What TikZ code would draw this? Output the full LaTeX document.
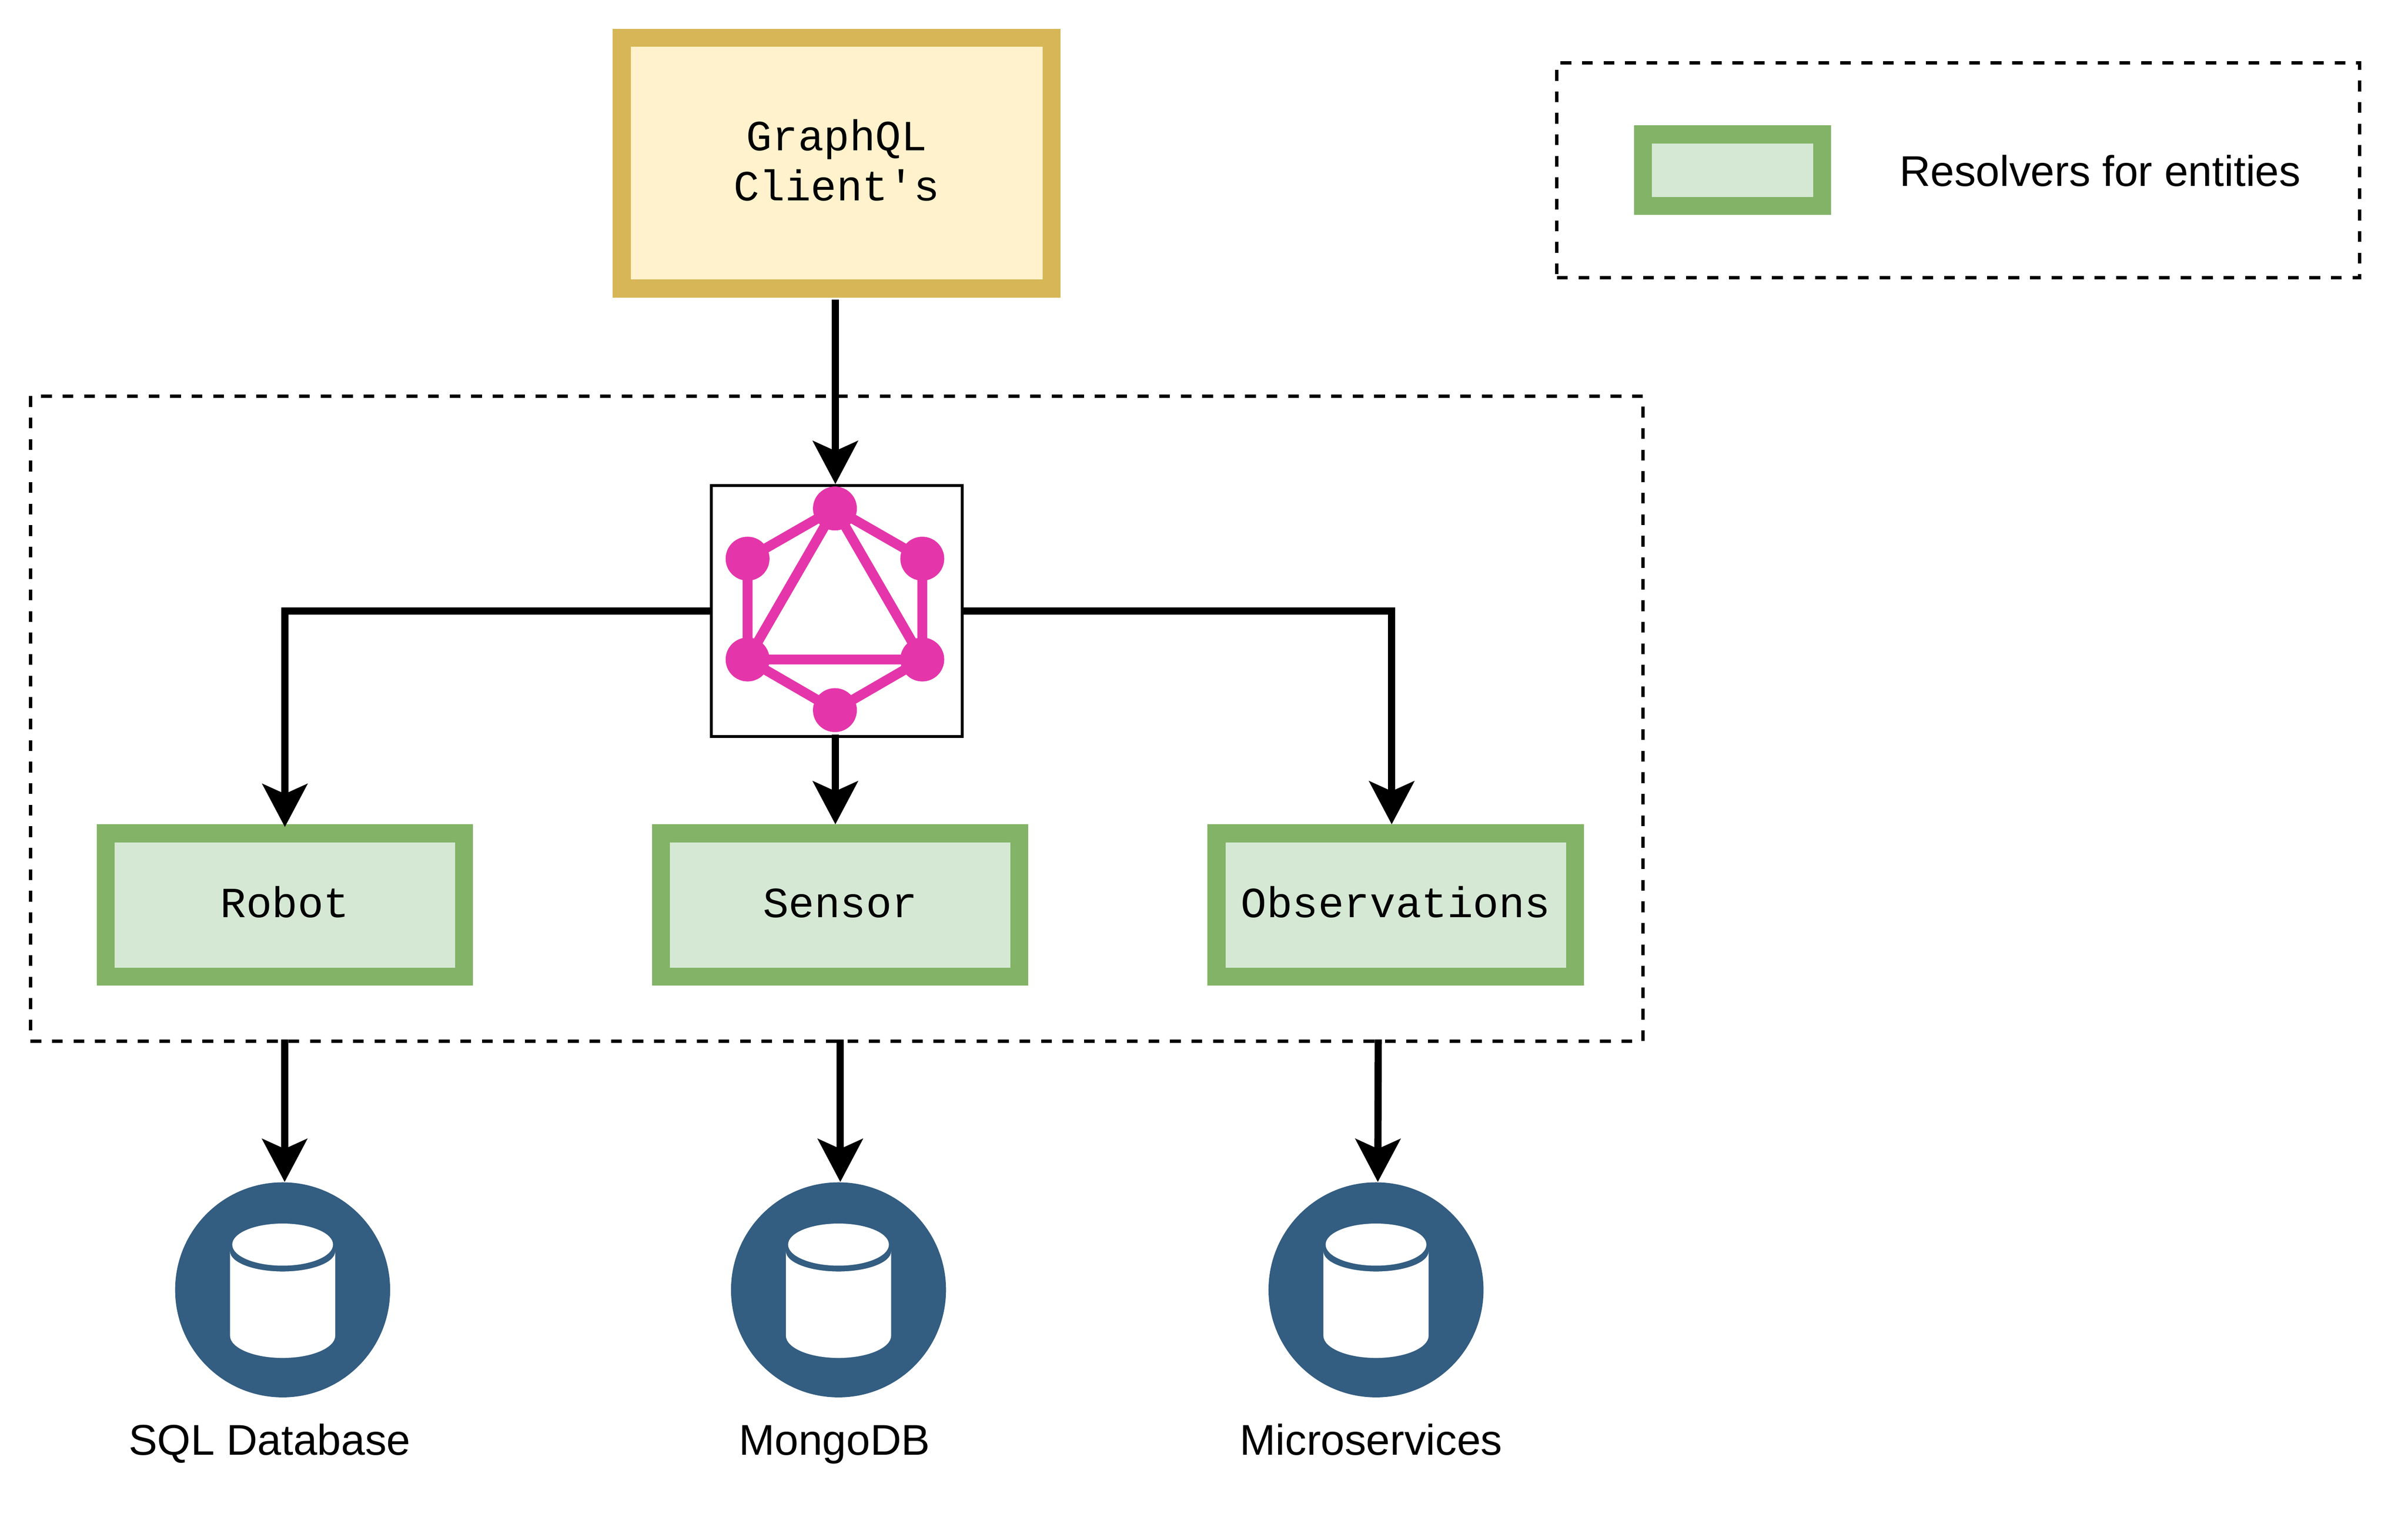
\documentclass[tikz,border=0pt]{standalone}
\usepackage{fontspec}
\setmainfont{Liberation Sans}
\setmonofont{Liberation Mono}
\usetikzlibrary{arrows.meta}
\definecolor{clientfill}{HTML}{FFF2CC}
\definecolor{clientline}{HTML}{D6B656}
\definecolor{resolverfill}{HTML}{D5E8D4}
\definecolor{resolverline}{HTML}{82B366}
\definecolor{gqlpink}{HTML}{E535AB}
\definecolor{dbblue}{HTML}{335D81}
\tikzset{
    monotext/.style={font=\ttfamily\fontsize{27.3}{31.9}\selectfont,text height=0.76cm,text depth=0.2cm},
    sanstext/.style={font=\fontsize{27.3}{32}\selectfont,anchor=base,inner sep=0},
    clientbox/.style={draw=clientline,fill=clientfill,line width=0.4cm,minimum width=9.6cm,minimum height=5.6cm,inner sep=0,align=center,monotext,text height=1.88cm},
    resolver/.style={draw=resolverline,fill=resolverfill,line width=0.4cm,minimum width=8cm,minimum height=3.2cm,inner sep=0,monotext},
    dashbox/.style={draw,line width=0.075cm,dash pattern=on 0.24cm off 0.24cm,inner sep=0},
    gqlbox/.style={draw,line width=0.07cm,minimum size=5.6cm,inner sep=0},
    gqldot/.style={circle,fill=gqlpink,minimum size=0.98cm,inner sep=0},
    gqlline/.style={draw=gqlpink,line width=0.22cm},
    dbnode/.style={circle,fill=dbblue,minimum size=4.8cm,inner sep=0},
    flow/.style={line width=0.16cm,-{Stealth[length=0.96cm,width=1cm,inset=0.22cm]}},
    dbcan/.pic={
        \fill[white] (-1.175,0.86) -- (-1.175,-1.02)
            arc[start angle=180,end angle=360,x radius=1.175,y radius=0.5]
            -- (1.175,0.86)
            arc[start angle=0,end angle=-180,x radius=1.175,y radius=0.45] -- cycle;
        \fill[white] (0,1.01) ellipse[x radius=1.125,y radius=0.47];
    }
}
\begin{document}
\begin{tikzpicture}
    \useasboundingbox (0,0) rectangle (53.76,-34.08);
    \node[dashbox,minimum width=36cm,minimum height=14.4cm] (backend) at (18.68,-16.04) {};
    \node[dashbox,minimum width=17.92cm,minimum height=4.8cm] (legend) at (43.72,-3.8) {};
    \node[resolver,minimum width=4cm,minimum height=1.6cm] (legendkey) at (38.68,-3.8) {};
    \node[sanstext] (legendtext) at (46.885,-4.157) {Resolvers for entities};

    \node[clientbox] (client) at (18.68,-3.64) {GraphQL\\Client's};
    \node[gqlbox] (gql) at (18.68,-13.64) {};

    \node[gqldot] (gqltop) at (18.64,-11.35) {};
    \node[gqldot] (gqlnw) at (16.69,-12.47) {};
    \node[gqldot] (gqlne) at (20.59,-12.47) {};
    \node[gqldot] (gqlsw) at (16.69,-14.72) {};
    \node[gqldot] (gqlse) at (20.59,-14.72) {};
    \node[gqldot] (gqlbot) at (18.64,-15.85) {};
    \draw[gqlline] (gqltop.center) -- (gqlnw.center) -- (gqlsw.center) -- (gqlbot.center)
        -- (gqlse.center) -- (gqlne.center) -- (gqltop.center);
    \draw[gqlline] (gqltop.center) -- (gqlsw.center) -- (gqlse.center) -- (gqltop.center);

    \node[resolver] (robot) at (6.36,-20.2) {Robot};
    \node[resolver] (sensor) at (18.76,-20.2) {Sensor};
    \node[resolver] (observations) at (31.16,-20.2) {Observations};

    \node[dbnode] (sql) at (6.31,-28.79) {};
    \node[dbnode] (mongo) at (18.72,-28.79) {};
    \node[dbnode] (micro) at (30.72,-28.79) {};
    \pic at (sql) {dbcan};
    \pic at (mongo) {dbcan};
    \pic at (micro) {dbcan};
    \node[sanstext] (sqltext) at (6.02,-32.48) {SQL Database};
    \node[sanstext] (mongotext) at (18.63,-32.48) {MongoDB};
    \node[sanstext] (microtext) at (30.61,-32.48) {Microservices};

    \coordinate (sqlout) at (6.355,-23.2);
    \coordinate (mongoout) at (18.76,-23.2);
    \coordinate (microout) at (30.77,-23.2);

    \draw[flow,shorten <=0.05cm] ([xshift=-0.03cm]client.south) -- ([xshift=-0.03cm]gql.north);
    \draw[flow] (gql.west) -| ([yshift=-0.06cm]robot.north);
    \draw[flow] ([xshift=-0.03cm,yshift=0.08cm]gql.south) -- ([xshift=-0.11cm]sensor.north);
    \draw[flow] (gql.east) -| ([xshift=-0.09cm]observations.north);
    \draw[flow] (sqlout) -- ([xshift=0.045cm]sql.north);
    \draw[flow] (mongoout) -- ([xshift=0.04cm]mongo.north);
    \draw[flow] (microout) -- ([xshift=0.04cm]micro.north);
\end{tikzpicture}
\end{document}
